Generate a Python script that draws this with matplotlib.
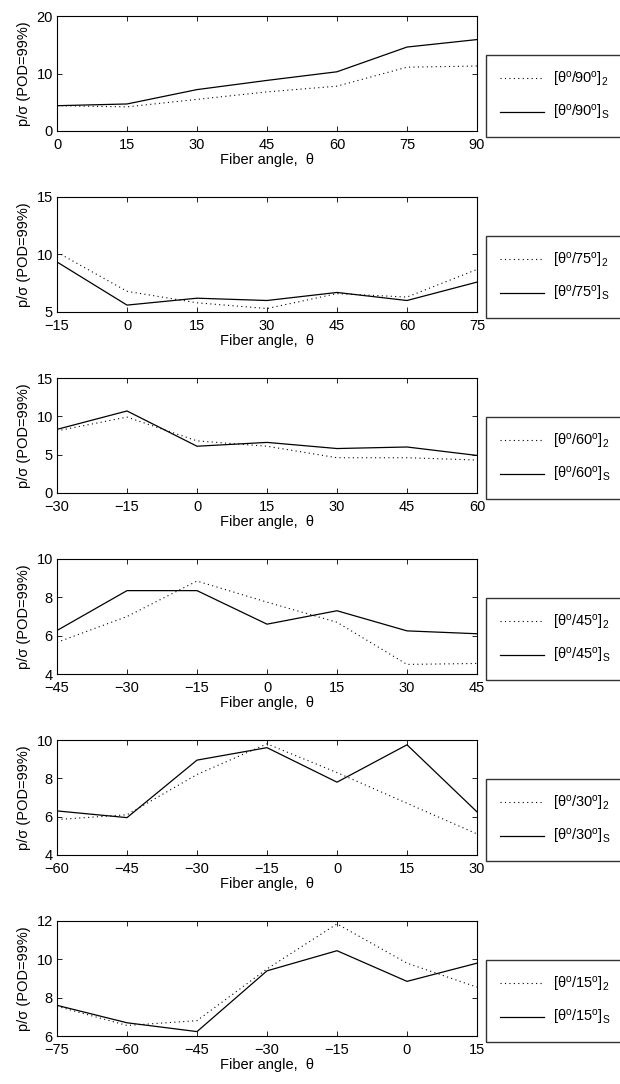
import matplotlib
matplotlib.use("Agg")
import matplotlib.pyplot as plt

plt.rcParams['font.family'] = ['Liberation Sans', 'DejaVu Sans']
plt.rcParams['mathtext.fontset'] = 'custom'
plt.rcParams['mathtext.rm'] = 'Liberation Sans'
plt.rcParams['mathtext.it'] = 'Liberation Sans:italic'
plt.rcParams['axes.unicode_minus'] = True

# fibre angle of the second ply for each panel
ply_angles = [90, 75, 60, 45, 30, 15]

# x positions (fiber angle theta) for each panel
theta_90 = [0, 15, 30, 45, 60, 75, 90]
theta_75 = [-15, 0, 15, 30, 45, 60, 75]
theta_60 = [-30, -15, 0, 15, 30, 45, 60]
theta_45 = [-45, -30, -15, 0, 15, 30, 45]
theta_30 = [-60, -45, -30, -15, 0, 15, 30]
theta_15 = [-75, -60, -45, -30, -15, 0, 15]

# p/sigma at POD=99%, [theta/phi]_2 laminates (dotted)
lam2_90 = [4.4, 4.2, 5.5, 6.8, 7.8, 11.1, 11.3]
lam2_75 = [10.2, 6.8, 5.8, 5.3, 6.6, 6.3, 8.7]
lam2_60 = [8.1, 9.9, 6.8, 6.1, 4.6, 4.6, 4.3]
lam2_45 = [5.65, 7.0, 8.85, 7.75, 6.7, 4.5, 4.55]
lam2_30 = [5.85, 6.1, 8.2, 9.8, 8.3, 6.7, 5.1]
lam2_15 = [7.55, 6.55, 6.8, 9.5, 11.85, 9.8, 8.55]

# p/sigma at POD=99%, [theta/phi]_S laminates (solid)
lamS_90 = [4.4, 4.7, 7.2, 8.8, 10.3, 14.6, 15.9]
lamS_75 = [9.35, 5.6, 6.2, 6.0, 6.7, 6.0, 7.6]
lamS_60 = [8.3, 10.7, 6.1, 6.6, 5.8, 6.0, 4.9]
lamS_45 = [6.27, 8.35, 8.35, 6.6, 7.3, 6.25, 6.1]
lamS_30 = [6.3, 5.95, 8.95, 9.6, 7.8, 9.75, 6.25]
lamS_15 = [7.6, 6.69, 6.23, 9.4, 10.45, 8.85, 9.8]

y_limits = [(0, 20), (5, 15), (0, 15), (4, 10), (4, 10), (6, 12)]
y_ticks = [[0, 10, 20], [5, 10, 15], [0, 5, 10, 15],
           [4, 6, 8, 10], [4, 6, 8, 10], [6, 8, 10, 12]]

thetas = [theta_90, theta_75, theta_60, theta_45, theta_30, theta_15]
lam2 = [lam2_90, lam2_75, lam2_60, lam2_45, lam2_30, lam2_15]
lamS = [lamS_90, lamS_75, lamS_60, lamS_45, lamS_30, lamS_15]

W, H = 620, 1084
fig = plt.figure(figsize=(W / 100, H / 100), dpi=100)

tops = [16, 197, 378, 559, 740, 921]
ax_h = 115
for i in range(6):
    ax = fig.add_axes([57 / W, 1 - (tops[i] + ax_h) / H, 420 / W, ax_h / H])
    x = thetas[i]
    l2, = ax.plot(x, lam2[i], color='black', lw=0.8, linestyle=(0, (1, 3)))
    lS, = ax.plot(x, lamS[i], color='black', lw=0.9)
    ax.set_xlim(x[0], x[-1])
    ax.set_ylim(*y_limits[i])
    ax.set_xticks(x)
    ax.set_yticks(y_ticks[i])
    ax.tick_params(direction='in', top=True, right=True, length=3.5,
                   width=0.6, labelsize=10.5)
    ax.tick_params(axis='x', pad=5)
    ax.tick_params(axis='y', pad=3)
    for s in ax.spines.values():
        s.set_linewidth(0.8)
    ax.set_xlabel('Fiber angle,  θ', fontsize=10.5, labelpad=1)
    ax.set_ylabel('p/σ (POD=99%)', fontsize=10.5, labelpad=4)

    phi = ply_angles[i]
    labels = [rf'[θ$^\mathrm{{o}}$/{phi}$^\mathrm{{o}}$]$_\mathrm{{2}}$',
              rf'[θ$^\mathrm{{o}}$/{phi}$^\mathrm{{o}}$]$_\mathrm{{S}}$']
    leg = ax.legend([l2, lS], labels, loc='upper left',
                    bbox_to_anchor=(1.021, 0.66, 0.6, 0.0), mode='expand',
                    frameon=True, fancybox=False, edgecolor='black',
                    fontsize=10.5, handlelength=3.0, handletextpad=0.6,
                    labelspacing=1.0, borderpad=1.0, borderaxespad=0)
    leg.get_frame().set_linewidth(1.0)

fig.savefig('out.png', dpi=100)
